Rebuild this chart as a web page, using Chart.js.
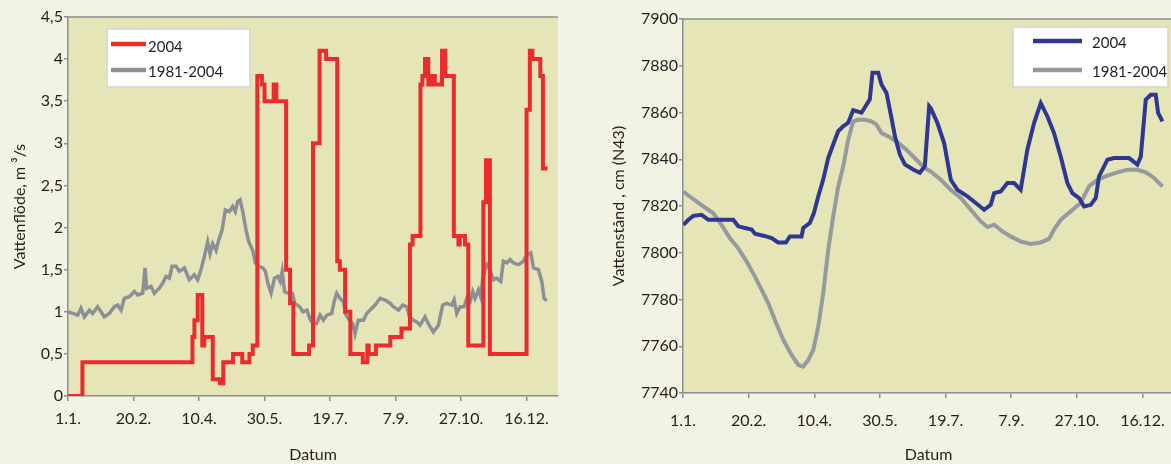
<!DOCTYPE html>
<html><head><meta charset="utf-8">
<script src="https://cdn.jsdelivr.net/npm/chart.js@4.4.1/dist/chart.umd.min.js"></script>
<style>
html,body{margin:0;padding:0;background:#F2F3E2;overflow:hidden;width:1171px;height:464px;}
#c1{position:absolute;left:0;top:0;}
#c2{position:absolute;left:590px;top:0;}
</style></head><body>
<canvas id="c1" width="590" height="464"></canvas>
<canvas id="c2" width="600" height="464"></canvas>
<script>
// ---- tick labels (day index from 1.1.) ----
const xTickDays = [0, 50, 100, 150, 200, 250, 300, 350];
const xTickLabels = ['1.1.', '20.2.', '10.4.', '30.5.', '19.7.', '7.9.', '27.10.', '16.12.'];

// ---- Vattenflöde 2004 (step changes: day, m3/s) ----
const flowDays2004 = [0, 11, 95, 96.5, 99, 102.5, 104, 110.5, 116, 118.5, 126, 133, 138.5, 141, 144.5, 148, 150, 157, 159, 166.5, 169.5, 172, 184, 187, 192, 197, 205.5, 207.5, 211.5, 215.5, 225, 228.5, 229.5, 235, 246, 254.5, 261, 263, 269, 270.5, 272.5, 275, 277.5, 280, 285.5, 288, 294.5, 298, 299, 303, 305.5, 317, 319, 322, 350, 352.5, 354.5, 360.5, 362.5, 366];
const flowValues2004 = [0, 0.4, 0.7, 0.9, 1.2, 0.6, 0.7, 0.2, 0.15, 0.4, 0.5, 0.4, 0.5, 0.6, 3.8, 3.7, 3.5, 3.7, 3.5, 1.5, 1.1, 0.5, 0.6, 3.0, 4.1, 4.0, 1.6, 1.5, 1.0, 0.5, 0.4, 0.6, 0.5, 0.6, 0.7, 0.8, 1.8, 1.9, 3.7, 3.8, 4.0, 3.7, 3.8, 3.7, 4.1, 3.8, 1.9, 1.8, 1.9, 1.8, 0.6, 2.3, 2.8, 0.5, 3.4, 4.1, 4.0, 3.8, 2.7, 2.7];

// ---- Vattenflöde 1981-2004 mean ----
const flowDaysMean = [0, 3.6, 7.4, 9.9, 12.5, 16.3, 18.8, 22.6, 27.7, 31.5, 35.4, 37.9, 40.5, 43, 46.8, 50.6, 53.2, 57, 58.8, 60, 63.4, 65.9, 69.7, 72.3, 74.8, 77.4, 79.4, 82.4, 85, 88.8, 92.6, 96.4, 99, 101.5, 104, 106.6, 108.4, 110.4, 113, 115, 117.6, 120.1, 123.2, 125.7, 127.7, 129.5, 131.3, 133.4, 135.9, 138, 141, 143, 145.6, 148.7, 150.7, 152.5, 155, 157.6, 160.2, 162, 163.5, 165.3, 167.9, 171.2, 173, 176.8, 179.4, 182.4, 185, 187.3, 189.8, 192.4, 194.9, 197.5, 201.3, 203.1, 205.1, 207.6, 210.2, 212.2, 214.8, 217.3, 219.1, 221.6, 225.5, 228, 230.6, 234.4, 238.2, 242, 245.9, 248.4, 252.2, 255.5, 258.6, 260.6, 263.6, 266.2, 268.7, 272.5, 275, 278.9, 282.7, 286, 289.1, 292.9, 294.7, 296.7, 299.3, 302.3, 304.4, 306.9, 308.9, 310.7, 313.3, 315, 316.6, 319.6, 322.1, 324.7, 327.2, 330.3, 332.3, 334.9, 337.4, 340, 343.8, 347.6, 350.2, 353.2, 355.3, 359.1, 361.6, 363.4, 365.4];
const flowValuesMean = [1.0, 0.98, 0.96, 1.04, 0.94, 1.02, 0.98, 1.06, 0.94, 0.98, 1.06, 1.08, 1.02, 1.16, 1.18, 1.24, 1.2, 1.22, 1.52, 1.28, 1.3, 1.22, 1.28, 1.34, 1.42, 1.4, 1.54, 1.54, 1.48, 1.52, 1.38, 1.44, 1.38, 1.5, 1.65, 1.83, 1.69, 1.81, 1.73, 1.85, 1.97, 2.21, 2.19, 2.25, 2.19, 2.31, 2.33, 2.19, 1.97, 1.83, 1.73, 1.58, 1.54, 1.52, 1.48, 1.34, 1.22, 1.4, 1.42, 1.36, 1.48, 1.24, 1.22, 1.22, 1.1, 1.06, 1.0, 1.02, 0.9, 0.86, 0.86, 0.96, 0.9, 0.96, 0.98, 1.12, 1.22, 1.16, 1.12, 0.96, 0.9, 0.86, 0.74, 0.9, 0.9, 0.98, 1.02, 1.08, 1.16, 1.14, 1.1, 1.06, 1.02, 1.08, 1.06, 0.94, 0.9, 0.88, 0.84, 0.94, 0.86, 0.76, 0.84, 1.08, 1.1, 1.08, 1.14, 0.98, 1.06, 1.06, 1.16, 1.12, 1.24, 1.16, 1.26, 1.18, 1.4, 1.56, 1.5, 1.38, 1.4, 1.36, 1.6, 1.58, 1.62, 1.58, 1.56, 1.6, 1.68, 1.7, 1.52, 1.5, 1.36, 1.16, 1.13];

// ---- Vattenstånd 2004 (cm N43) ----
const levelDays2004 = [0.25, 4.1, 7.9, 14.2, 19.3, 25.6, 38.3, 42.1, 47.2, 52.3, 54.8, 61.1, 67.5, 72.5, 78.4, 81.4, 90.3, 91.6, 96.6, 99.7, 103, 106.8, 110.6, 114.4, 118.2, 122, 125.8, 129.6, 136, 142.3, 144.3, 148.7, 151.2, 155, 158.8, 161.4, 165.2, 169, 175.3, 180.4, 184.2, 187.5, 188.7, 193.8, 198.9, 204, 209, 216.7, 223, 229.4, 234.4, 237, 242, 247.1, 252.2, 257.2, 262.3, 267.4, 272.5, 277.6, 282.6, 287.7, 292.8, 296.6, 301.7, 305.5, 310.6, 314.4, 316.9, 323.3, 328.4, 339.8, 346.1, 348.7, 352.5, 356.3, 360.1, 361.9, 365.2];
const levelValues2004 = [7811.9, 7814.1, 7815.8, 7816.2, 7814.1, 7814.1, 7814.1, 7811.3, 7810.6, 7809.9, 7808.1, 7807.3, 7806.3, 7804.4, 7804.4, 7807, 7807, 7810.6, 7812.7, 7817, 7824.1, 7831.3, 7840.5, 7846.3, 7852, 7854.1, 7855.6, 7861, 7859.9, 7865.6, 7877, 7877, 7872, 7868.4, 7857.7, 7849.9, 7842, 7837.8, 7835.6, 7834.2, 7837, 7862.7, 7861.9, 7855.5, 7846.9, 7831.2, 7826.9, 7824.1, 7821.3, 7818.4, 7820.5, 7825.5, 7826.2, 7829.8, 7829.8, 7826.9, 7844.1, 7855.5, 7864, 7858.3, 7851.2, 7841.2, 7829.8, 7825.5, 7823.4, 7819.8, 7820.5, 7823.4, 7832.7, 7839.8, 7840.5, 7840.5, 7837.7, 7841.2, 7865.5, 7867.6, 7867.6, 7859.8, 7856.2];

// ---- Vattenstånd 1981-2004 mean ----
const levelDaysMean = [0.25, 7.9, 15.5, 23.1, 29.4, 35.8, 42.1, 48.5, 54.8, 59.9, 65, 70, 76.4, 82.7, 87.8, 91.6, 95.4, 99.2, 103, 106.8, 110.6, 114.4, 118.2, 122, 125.8, 129.6, 133.4, 138.5, 143.6, 147.4, 151.2, 156.3, 162.6, 170.2, 177.8, 184.2, 188.7, 196.4, 204, 211.6, 219.2, 226.8, 231.9, 237, 243.3, 249.6, 257.2, 264.8, 272.5, 278.8, 282.6, 287.7, 295.3, 302.9, 309.3, 315.6, 323.3, 330.9, 338.5, 346.1, 352.5, 358.8, 365.2];
const levelValuesMean = [7826.2, 7822.9, 7819.8, 7816.9, 7811.9, 7806.2, 7801.9, 7796.2, 7789.8, 7784.1, 7778.4, 7771.2, 7762.7, 7756.3, 7752, 7751.3, 7754.1, 7758.4, 7768.4, 7782.7, 7801.2, 7815.5, 7828.3, 7836.9, 7848.3, 7856.2, 7856.9, 7856.9, 7856.2, 7854.8, 7851.2, 7849.8, 7847.6, 7844.1, 7839.8, 7836.2, 7834.8, 7831.2, 7826.9, 7823.4, 7818.4, 7813.4, 7811, 7812, 7809.1, 7807, 7804.8, 7803.8, 7804.4, 7805.9, 7809.9, 7814.1, 7817.7, 7821.3, 7828.4, 7831.2, 7833, 7834.4, 7835.5, 7835.5, 7834.4, 7832, 7828.4];

const seriesLabels = ['2004', '1981-2004'];

function pts(xs, ys) { return xs.map((x, i) => ({x: x, y: ys[i]})); }

const FONT = 'Lato, "Open Sans", sans-serif';
const TEXT = '#231F20';
const AXIS = '#8A8F94';

const deco = {
  id: 'deco',
  beforeDraw(chart, args, o) {
    const {ctx, chartArea: a} = chart;
    ctx.save();
    ctx.fillStyle = '#F2F3E2';
    ctx.fillRect(0, 0, chart.width, chart.height);
    ctx.fillStyle = '#E6E5B8';
    ctx.fillRect(a.left, a.top, a.right - a.left, a.bottom - a.top);
    ctx.strokeStyle = AXIS; ctx.lineWidth = 1.5;
    ctx.beginPath(); ctx.moveTo(a.left, a.top); ctx.lineTo(a.right, a.top); ctx.stroke();
    ctx.restore();
  },
  afterDraw(chart, args, o) {
    const ctx = chart.ctx;
    ctx.save();
    ctx.fillStyle = '#FFFFFF'; ctx.strokeStyle = '#D4D4CC'; ctx.lineWidth = 1.5;
    ctx.fillRect(o.box[0], o.box[1], o.box[2], o.box[3]);
    ctx.strokeRect(o.box[0], o.box[1], o.box[2], o.box[3]);
    ctx.font = '15px ' + FONT; ctx.textBaseline = 'middle'; ctx.textAlign = 'left';
    chart.data.datasets.forEach((ds, i) => {
      ctx.strokeStyle = ds.borderColor; ctx.lineWidth = 4.5; ctx.lineCap = 'butt';
      ctx.beginPath(); ctx.moveTo(o.line[0], o.lineY[i]); ctx.lineTo(o.line[1], o.lineY[i]); ctx.stroke();
      ctx.fillStyle = TEXT;
      ctx.fillText(ds.label, o.textX, o.textY[i]);
    });
    ctx.restore();
  }
};

function makeChart(id, datasets, yOpts, geom) {
  return new Chart(document.getElementById(id), {
    type: 'line',
    data: {datasets: datasets},
    plugins: [deco],
    options: {
      responsive: false, animation: false, devicePixelRatio: 1,
      layout: {padding: {top: geom.top, right: geom.right, left: 0, bottom: 0}},
      plugins: {legend: {display: false}, tooltip: {enabled: false}, deco: geom.legend},
      elements: {point: {radius: 0}, line: {tension: 0, borderJoinStyle: 'miter'}},
      scales: {
        x: {
          type: 'linear', min: 0, max: 374,
          afterBuildTicks: s => { s.ticks = xTickDays.map(v => ({value: v})); },
          afterFit: s => { s.height = geom.xh; },
          ticks: {
            callback: v => xTickLabels[xTickDays.indexOf(v)],
            color: TEXT, font: {family: FONT, size: 16}, padding: geom.xpad, maxRotation: 0, autoSkip: false
          },
          grid: {drawOnChartArea: false, drawTicks: true, tickLength: 5, color: AXIS, lineWidth: 1.5},
          border: {color: AXIS, width: 1.5},
          title: {display: true, text: 'Datum', color: TEXT, font: {family: FONT, size: 16}, padding: {top: 0, bottom: 0}}
        },
        y: {
          min: yOpts.min, max: yOpts.max,
          afterFit: s => { s.width = geom.yw; },
          ticks: {
            stepSize: yOpts.step,
            callback: v => String(v).replace('.', ','),
            color: TEXT, font: {family: FONT, size: 16}, padding: 1
          },
          grid: {drawOnChartArea: false, drawTicks: true, tickLength: 4, color: AXIS, lineWidth: 1.5},
          border: {color: AXIS, width: 1.5},
          title: {display: true, text: yOpts.title, color: TEXT, font: {family: FONT, size: 16}, padding: {top: geom.ytp, bottom: 0}}
        }
      }
    }
  });
}

makeChart('c1', [
  {label: seriesLabels[0], data: pts(flowDays2004, flowValues2004), borderColor: '#EC2B2D', borderWidth: 4, stepped: true, order: 1},
  {label: seriesLabels[1], data: pts(flowDaysMean, flowValuesMean), borderColor: '#8B9097', borderWidth: 3.5, order: 2}
], {min: 0, max: 4.5, step: 0.5, title: 'Vattenflöde, m ³/s'},
{top: 17, right: 32, yw: 68, xh: 68, xpad: 8, ytp: 10,
 legend: {box: [107, 29, 143, 58], line: [111, 146], lineY: [44, 70], textX: 148, textY: [47, 72]}});

makeChart('c2', [
  {label: seriesLabels[0], data: pts(levelDays2004, levelValues2004), borderColor: '#2E3892', borderWidth: 4, order: 1},
  {label: seriesLabels[1], data: pts(levelDaysMean, levelValuesMean), borderColor: '#959A9F', borderWidth: 4, order: 2}
], {min: 7740, max: 7900, step: 20, title: 'Vattenstånd , cm (N43)'},
{top: 19, right: 16, yw: 93, xh: 71, xpad: 13, ytp: 19,
 legend: {box: [423, 27, 155, 60], line: [443, 492], lineY: [41, 70], textX: 502, textY: [43, 72]}});
</script>
</body></html>
